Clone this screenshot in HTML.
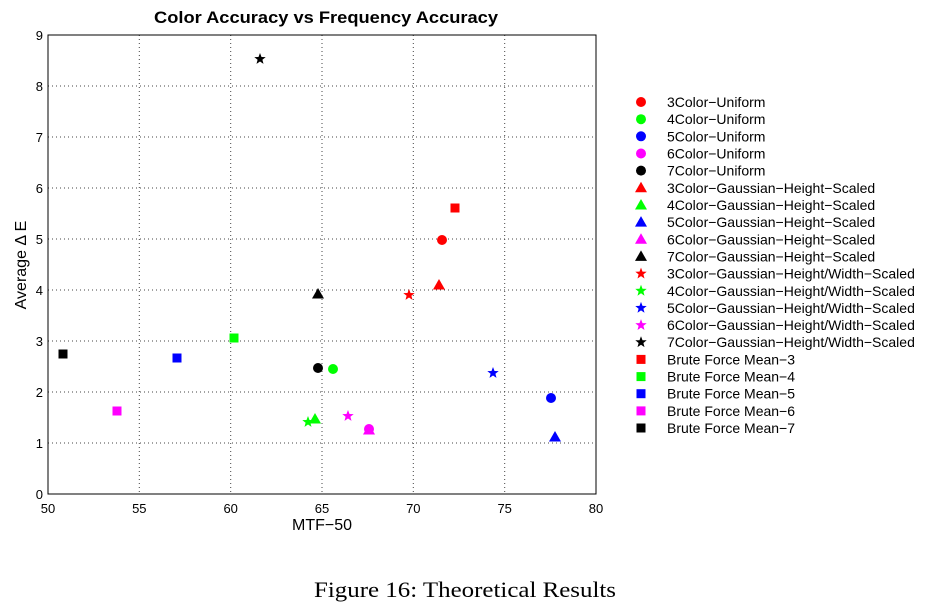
<!DOCTYPE html>
<html><head><style>body{margin:0;background:#fff}svg{display:block}</style></head><body>
<svg width="931" height="607" xmlns="http://www.w3.org/2000/svg" font-family="Liberation Sans, sans-serif">
<rect width="931" height="607" fill="#fff"/>
<defs>
<g id="c"><circle r="5"/></g>
<g id="t"><polygon points="0,-6 6,4.5 -6,4.5"/></g>
<g id="s"><polygon points="0,-6 1.5,-2 5.7,-1.9 2.4,0.8 3.5,4.9 0,2.5 -3.5,4.9 -2.4,0.8 -5.7,-1.9 -1.5,-2"/></g>
<g id="q"><rect x="-4.5" y="-4.5" width="9" height="9"/></g>
</defs>
<g stroke="#444" stroke-width="1" stroke-dasharray="1,3">
<line x1="139.3" y1="35" x2="139.3" y2="494"/><line x1="230.7" y1="35" x2="230.7" y2="494"/><line x1="322" y1="35" x2="322" y2="494"/><line x1="413.3" y1="35" x2="413.3" y2="494"/><line x1="504.7" y1="35" x2="504.7" y2="494"/>
<line x1="48" y1="443" x2="596" y2="443"/><line x1="48" y1="392" x2="596" y2="392"/><line x1="48" y1="341" x2="596" y2="341"/><line x1="48" y1="290" x2="596" y2="290"/><line x1="48" y1="239" x2="596" y2="239"/><line x1="48" y1="188" x2="596" y2="188"/><line x1="48" y1="137" x2="596" y2="137"/><line x1="48" y1="86" x2="596" y2="86"/>
</g>
<rect x="48" y="35" width="548" height="459" fill="none" stroke="#000" stroke-width="1"/>
<g font-size="13" text-anchor="middle">
<text x="48" y="513">50</text><text x="139.3" y="513">55</text><text x="230.7" y="513">60</text><text x="322" y="513">65</text><text x="413.3" y="513">70</text><text x="504.7" y="513">75</text><text x="596" y="513">80</text>
</g>
<g font-size="13" text-anchor="end">
<text x="43" y="499">0</text><text x="43" y="448">1</text><text x="43" y="397">2</text><text x="43" y="346">3</text><text x="43" y="295">4</text><text x="43" y="244">5</text><text x="43" y="193">6</text><text x="43" y="142">7</text><text x="43" y="91">8</text><text x="43" y="40">9</text>
</g>
<text x="154" y="23" font-size="17" font-weight="bold" textLength="344" lengthAdjust="spacingAndGlyphs">Color Accuracy vs Frequency Accuracy</text>
<text x="322" y="530" font-size="16" text-anchor="middle">MTF−50</text>
<text transform="translate(26,265) rotate(-90)" font-size="16" text-anchor="middle">Average Δ E</text>
<text x="314" y="597" font-size="22" font-family="Liberation Serif, serif" textLength="302" lengthAdjust="spacingAndGlyphs">Figure 16: Theoretical Results</text>
<!-- data -->
<use href="#c" x="442" y="240" fill="#f00"/><use href="#c" x="333" y="369" fill="#0f0"/><use href="#c" x="551" y="398" fill="#00f"/><use href="#c" x="369" y="429" fill="#f0f"/><use href="#c" x="318" y="368" fill="#000"/>
<use href="#t" x="439" y="285" fill="#f00"/><use href="#t" x="315" y="419" fill="#0f0"/><use href="#t" x="555" y="437" fill="#00f"/><use href="#t" x="369" y="430" fill="#f0f"/><use href="#t" x="318" y="294" fill="#000"/>
<use href="#s" x="409" y="295" fill="#f00"/><use href="#s" x="308" y="422" fill="#0f0"/><use href="#s" x="493" y="373" fill="#00f"/><use href="#s" x="348" y="416" fill="#f0f"/><use href="#s" x="260" y="59" fill="#000"/>
<use href="#q" x="455" y="208" fill="#f00"/><use href="#q" x="234" y="338" fill="#0f0"/><use href="#q" x="177" y="358" fill="#00f"/><use href="#q" x="117" y="411" fill="#f0f"/><use href="#q" x="63" y="354" fill="#000"/>
<!-- legend -->
<g font-size="14">
<use href="#c" x="641" y="102" fill="#f00"/><text x="667" y="107">3Color−Uniform</text>
<use href="#c" x="641" y="119.2" fill="#0f0"/><text x="667" y="124.2">4Color−Uniform</text>
<use href="#c" x="641" y="136.3" fill="#00f"/><text x="667" y="141.3">5Color−Uniform</text>
<use href="#c" x="641" y="153.5" fill="#f0f"/><text x="667" y="158.5">6Color−Uniform</text>
<use href="#c" x="641" y="170.6" fill="#000"/><text x="667" y="175.6">7Color−Uniform</text>
<use href="#t" x="641" y="187.8" fill="#f00"/><text x="667" y="192.8">3Color−Gaussian−Height−Scaled</text>
<use href="#t" x="641" y="205" fill="#0f0"/><text x="667" y="210">4Color−Gaussian−Height−Scaled</text>
<use href="#t" x="641" y="222.1" fill="#00f"/><text x="667" y="227.1">5Color−Gaussian−Height−Scaled</text>
<use href="#t" x="641" y="239.3" fill="#f0f"/><text x="667" y="244.3">6Color−Gaussian−Height−Scaled</text>
<use href="#t" x="641" y="256.4" fill="#000"/><text x="667" y="261.4">7Color−Gaussian−Height−Scaled</text>
<use href="#s" x="641" y="273.6" fill="#f00"/><text x="667" y="278.6">3Color−Gaussian−Height/Width−Scaled</text>
<use href="#s" x="641" y="290.8" fill="#0f0"/><text x="667" y="295.8">4Color−Gaussian−Height/Width−Scaled</text>
<use href="#s" x="641" y="307.9" fill="#00f"/><text x="667" y="312.9">5Color−Gaussian−Height/Width−Scaled</text>
<use href="#s" x="641" y="325.1" fill="#f0f"/><text x="667" y="330.1">6Color−Gaussian−Height/Width−Scaled</text>
<use href="#s" x="641" y="342.2" fill="#000"/><text x="667" y="347.2">7Color−Gaussian−Height/Width−Scaled</text>
<use href="#q" x="641" y="359.4" fill="#f00"/><text x="667" y="364.4">Brute Force Mean−3</text>
<use href="#q" x="641" y="376.6" fill="#0f0"/><text x="667" y="381.6">Brute Force Mean−4</text>
<use href="#q" x="641" y="393.7" fill="#00f"/><text x="667" y="398.7">Brute Force Mean−5</text>
<use href="#q" x="641" y="410.9" fill="#f0f"/><text x="667" y="415.9">Brute Force Mean−6</text>
<use href="#q" x="641" y="428" fill="#000"/><text x="667" y="433">Brute Force Mean−7</text>
</g>
</svg>
</body></html>
